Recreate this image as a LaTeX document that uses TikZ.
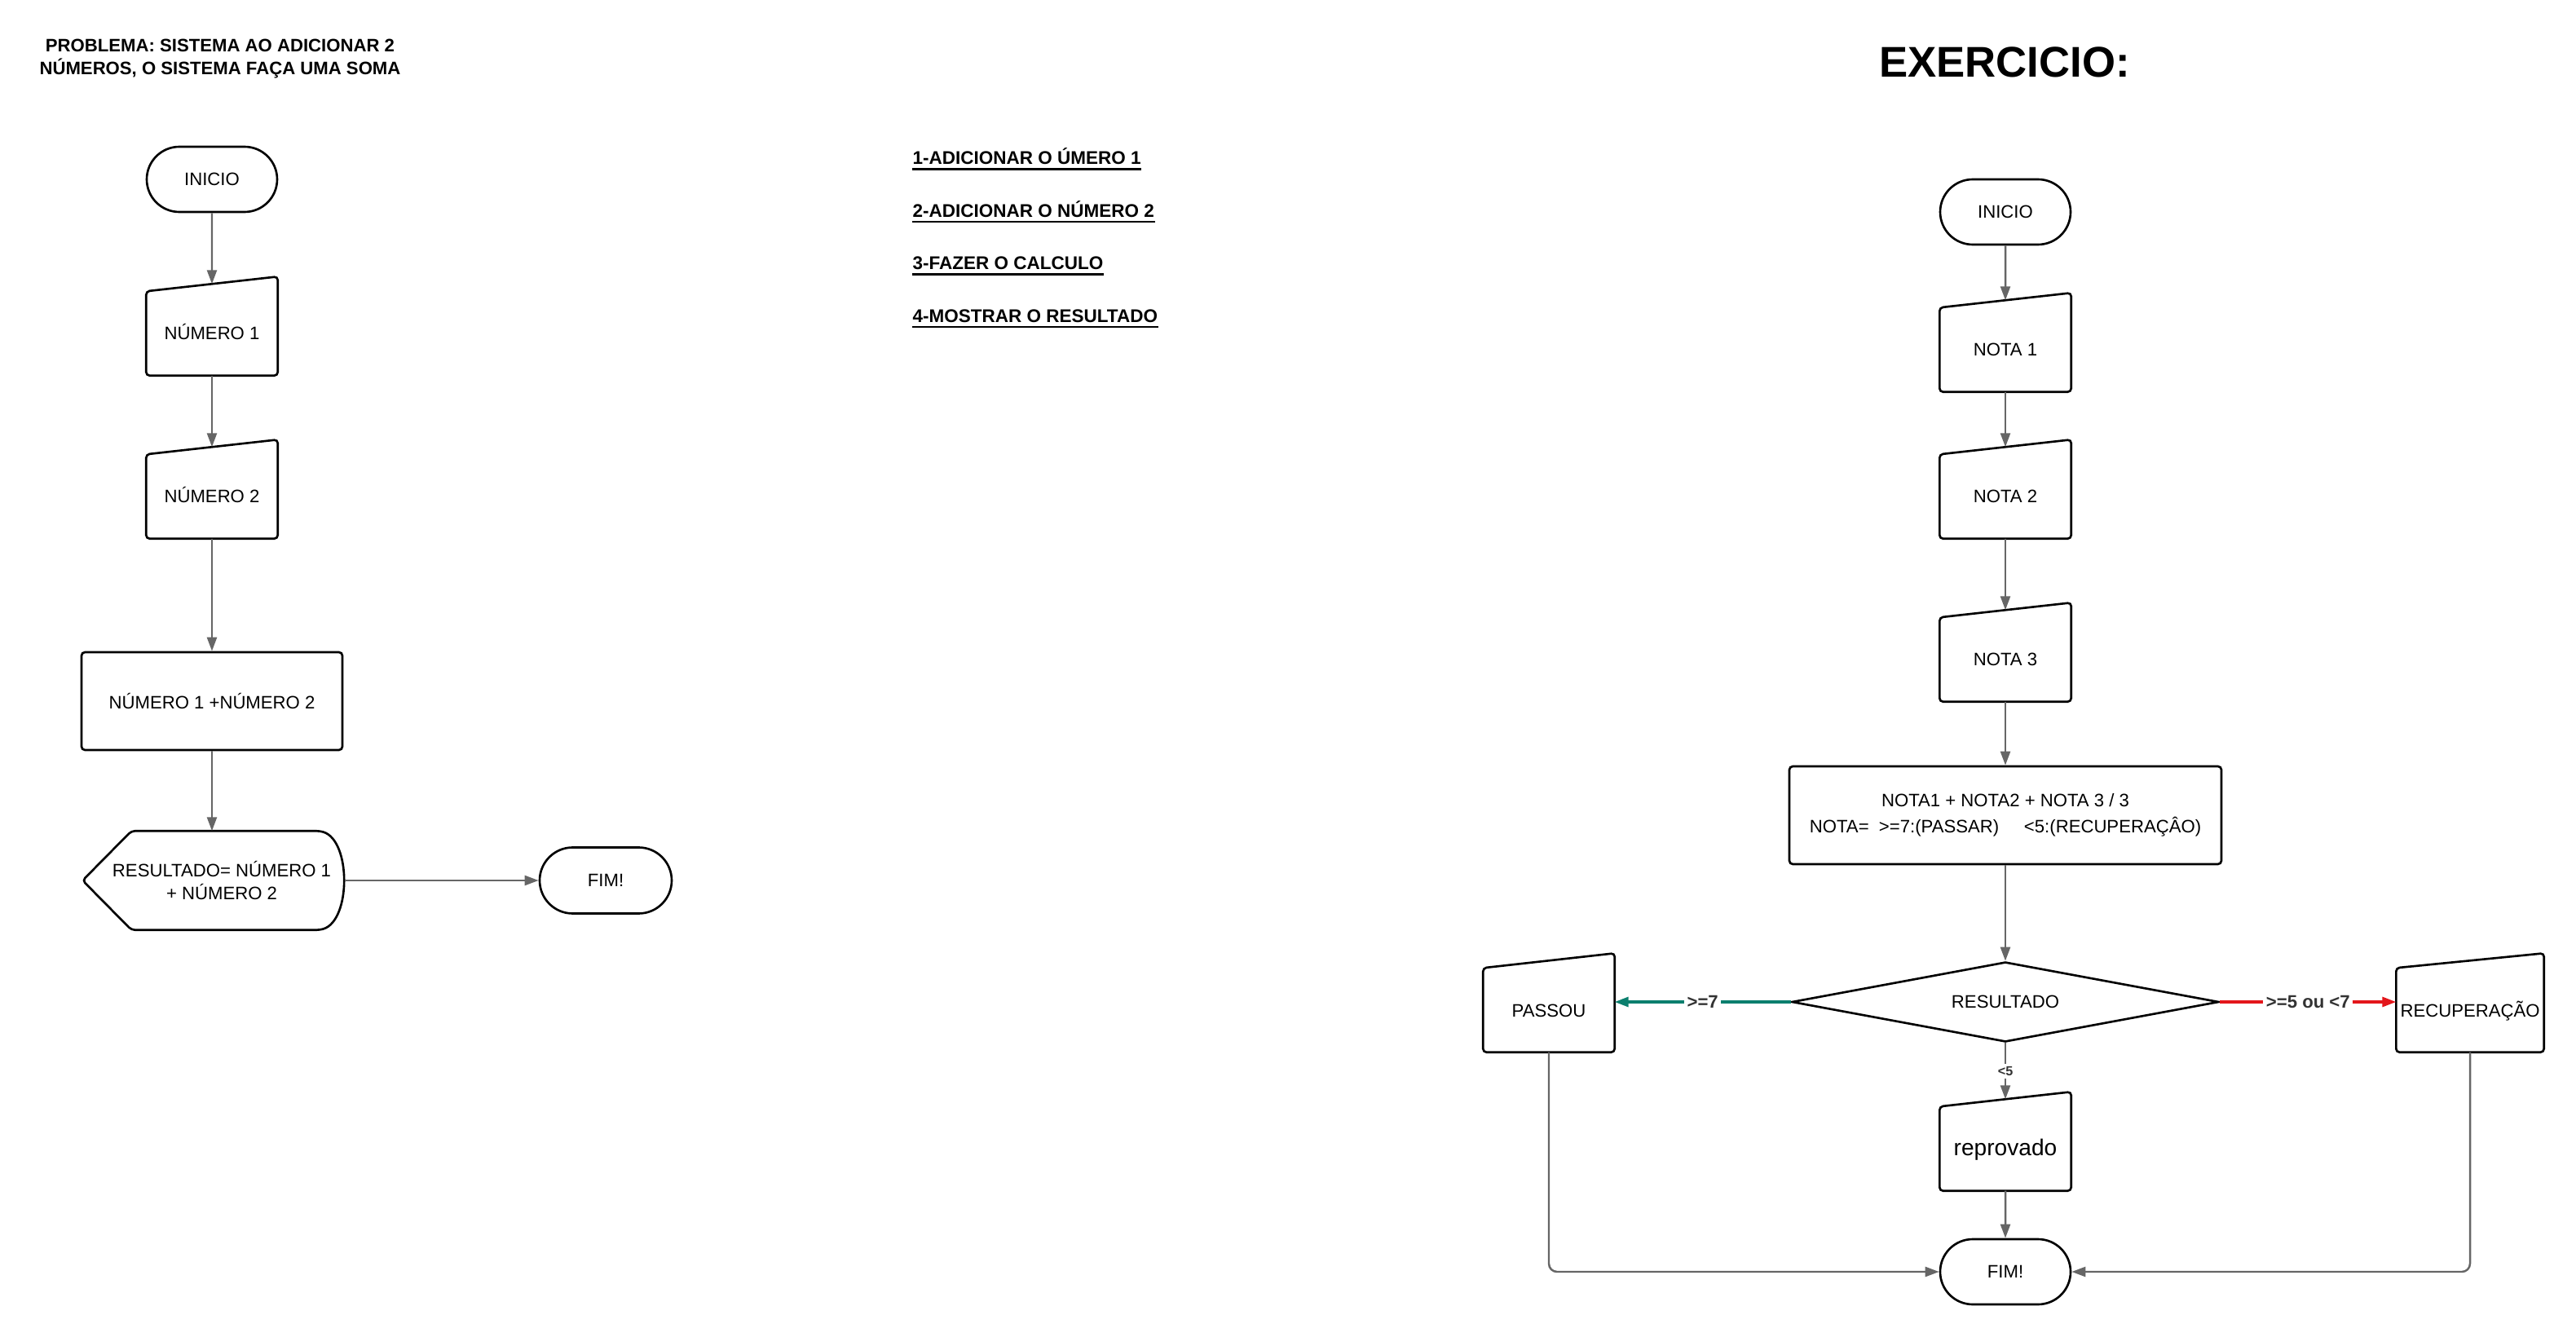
\documentclass[tikz,border=0pt]{standalone}
\usepackage{fontspec}
\setmainfont{Liberation Sans}
\usepackage{tikz}
\usetikzlibrary{arrows.meta,calc,shapes.geometric,shapes.misc}
\definecolor{linegray}{HTML}{666666}
\definecolor{labelgray}{HTML}{333333}
\definecolor{okgreen}{HTML}{0B7F6E}
\definecolor{badred}{HTML}{E3161B}

\begin{document}
\begin{tikzpicture}[>={Triangle[length=1.7mm,width=1.2mm]}]
\tikzstyle{every node}=[font=\fontsize{6.3}{7.7}\selectfont]
\tikzstyle{term}=[rounded rectangle,draw,line width=0.75pt,minimum width=1.6cm,minimum height=0.8cm,inner sep=0pt]
\tikzstyle{entrada}=[rectangle,minimum width=1.6cm,minimum height=1.11cm,inner sep=0pt,text height=2.5mm,text depth=0pt]
\tikzstyle{proc}=[rectangle,draw,rounded corners=1.2pt,line width=0.75pt,minimum height=1.2cm,inner sep=0pt,align=center]
\tikzstyle{seta}=[->,draw=linegray,line width=0.7pt]
\tikzstyle{rotulo}=[fill=white,text=labelgray,font=\fontsize{6.3}{7.5}\selectfont\bfseries,inner sep=1pt]
\tikzstyle{passo}=[anchor=base west,inner sep=0pt,font=\fontsize{6.4}{7.7}\selectfont\bfseries]
\useasboundingbox (0,0) rectangle (31.6,-16.4);

% Titles
\node (prob) [font=\fontsize{6.3}{8.1}\selectfont\bfseries,align=center] at (2.7,-0.72) {PROBLEMA: SISTEMA AO ADICIONAR 2\\NÚMEROS, O SISTEMA FAÇA UMA SOMA};
\node (exerc) [font=\fontsize{15}{18}\selectfont\bfseries] at (24.59,-0.76) {EXERCICIO:};

% Steps
\foreach \t [count=\i] in {1-ADICIONAR O ÚMERO 1, 2-ADICIONAR O NÚMERO 2, 3-FAZER O CALCULO, 4-MOSTRAR O RESULTADO} {
  \node (p\i) [passo] at (11.19,{-2.02-0.645*(\i-1)}) {\t};
  \draw[line width=0.75pt] ([yshift=-0.55mm]p\i.base west) -- ([yshift=-0.55mm]p\i.base east);
}

% Left flowchart
\node (ini1) [term] at (2.6,-2.2) {INICIO};
\node (n1) [entrada] at (2.6,-4.045) {NÚMERO 1};
\node (n2) [entrada] at (2.6,-6.045) {NÚMERO 2};
\node (soma) [proc,minimum width=3.2cm] at (2.6,-8.6) {NÚMERO 1 +NÚMERO 2};
\node (saida) [rectangle,minimum width=3.0cm,minimum height=1.2cm,inner sep=0pt,align=center] at (2.72,-10.8) {RESULTADO= NÚMERO 1\\+ NÚMERO 2};
\node (fim1) [term,minimum width=1.62cm,minimum height=0.81cm] at (7.43,-10.8) {FIM!};

% Right flowchart
\node (ini2) [term] at (24.6,-2.6) {INICIO};
\node (a1) [entrada] at (24.6,-4.245) {NOTA 1};
\node (a2) [entrada] at (24.6,-6.045) {NOTA 2};
\node (a3) [entrada] at (24.6,-8.045) {NOTA 3};
\node (media) [proc,minimum width=5.3cm,font=\fontsize{6.3}{9.1}\selectfont] at (24.6,-10.0) {NOTA1 + NOTA2 + NOTA 3 / 3\\NOTA=\ \ >=7:(PASSAR)\ \ \ \ \ <5:(RECUPERAÇÂO)};
\node (res) [diamond,draw,line width=0.75pt,shape aspect=5,minimum width=5.24cm,minimum height=0.98cm,inner sep=0pt] at (24.6,-12.29) {RESULTADO};
\node (ps) [entrada] at (19.0,-12.345) {PASSOU};
\node (rc) [entrada,minimum width=1.8cm] at (30.30,-12.345) {RECUPERAÇÃO};
\node (rp) [entrada,font=\fontsize{8}{9.5}\selectfont] at (24.6,-14.045) {reprovado};
\node (fim2) [term] at (24.6,-15.6) {FIM!};

% Manual input outlines
\foreach \n in {n1,n2,a1,a2,a3,ps,rc,rp}
  \draw[line width=0.75pt,rounded corners=1.2pt] ($(\n.north west)+(0,-0.09)$) -- ($(\n.north east)+(0,0.09)$) -- (\n.south east) -- (\n.south west) -- cycle;

% Display outline
\draw[line width=0.75pt,rounded corners=1.2pt] ($(saida.west)+(-0.2,0)$) -- ($(saida.north west)+(0.4,0)$) -- ($(saida.north east)+(-0.3,0)$) .. controls ($(saida.north east)+(0.08,-0.12)$) and ($(saida.south east)+(0.08,0.12)$) .. ($(saida.south east)+(-0.3,0)$) -- ($(saida.south west)+(0.4,0)$) -- cycle;

% Connectors
\draw[seta] (ini1) -- (n1);
\draw[seta] (n1) -- (n2);
\draw[seta] (n2) -- (soma);
\draw[seta] (soma) -- (soma |- saida.north);
\draw[seta] (saida.east) -- (fim1);

\draw[seta] (ini2) -- (a1);
\draw[seta] (a1) -- (a2);
\draw[seta] (a2) -- (a3);
\draw[seta] (a3) -- (media);
\draw[seta] (media) -- (res);
\draw[->,draw=okgreen,line width=0.9pt] (res.west) -- node[rotulo] {>=7} (ps.east |- res.west);
\draw[->,draw=badred,line width=0.9pt] (res.east) -- node[rotulo] {>=5 ou <7} (rc.west |- res.east);
\draw[seta] (res.south) -- node[rotulo,font=\fontsize{4.6}{5.5}\selectfont\bfseries] {<5} (rp.north);
\draw[seta] (rp) -- (fim2);
\draw[seta,rounded corners=1mm] (ps.south) |- (fim2.west);
\draw[seta,rounded corners=1mm] (rc.south) |- (fim2.east);

\end{tikzpicture}
\end{document}
